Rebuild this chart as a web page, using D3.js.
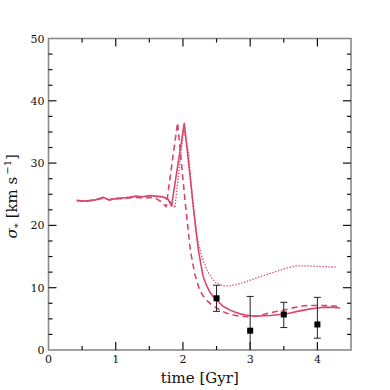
<!DOCTYPE html>
<html>
<head>
<meta charset="utf-8">
<script src="https://cdn.jsdelivr.net/npm/d3@7"></script>
<style>
  body { margin: 0; background: #fff; }
  text { font-family: "DejaVu Serif", serif; fill: #111; }
</style>
</head>
<body>
<script>
// solid model
const solidT = [0.42, 0.55, 0.7, 0.82, 0.9, 1.0, 1.1, 1.2, 1.3, 1.4, 1.5, 1.6, 1.7, 1.78, 1.83, 2.02, 2.15, 2.23, 2.3, 2.35, 2.4, 2.45, 2.5, 2.55, 2.6, 2.65, 2.7, 2.78, 2.85, 2.92, 3.0, 3.08, 3.15, 3.3, 3.4, 3.5, 3.6, 3.7, 3.8, 3.9, 4.0, 4.1, 4.2, 4.34];
const solidV = [24.0, 23.9, 24.1, 24.5, 24.1, 24.3, 24.4, 24.5, 24.7, 24.6, 24.8, 24.7, 24.6, 24.2, 23.1, 36.4, 23.5, 16.0, 11.8, 10.4, 9.3, 8.6, 8.0, 7.5, 7.0, 6.7, 6.4, 6.05, 5.8, 5.65, 5.5, 5.45, 5.45, 5.55, 5.65, 5.75, 5.95, 6.2, 6.4, 6.6, 6.75, 6.85, 6.85, 6.75];

// dashed model
const dashT = [0.42, 0.55, 0.7, 0.82, 0.9, 1.0, 1.1, 1.2, 1.3, 1.4, 1.5, 1.6, 1.68, 1.75, 1.92, 2.03, 2.11, 2.18, 2.25, 2.3, 2.35, 2.43, 2.5, 2.55, 2.65, 2.72, 2.8, 2.9, 3.0, 3.1, 3.2, 3.35, 3.5, 3.65, 3.8, 3.92, 4.04, 4.2, 4.34];
const dashV = [24.0, 23.9, 24.1, 24.4, 24.1, 24.3, 24.3, 24.4, 24.5, 24.4, 24.5, 24.3, 23.8, 23.0, 36.5, 24.1, 16.0, 12.0, 9.6, 8.7, 8.0, 7.2, 6.75, 6.4, 5.9, 5.7, 5.5, 5.4, 5.35, 5.45, 5.7, 6.1, 6.4, 6.8, 7.1, 7.15, 7.15, 7.1, 7.0];

// dotted model
const dotT = [0.42, 0.55, 0.7, 0.82, 0.9, 1.0, 1.1, 1.2, 1.3, 1.4, 1.5, 1.6, 1.7, 1.8, 1.88, 2.01, 2.08, 2.15, 2.2, 2.25, 2.3, 2.36, 2.43, 2.49, 2.55, 2.62, 2.7, 2.8, 2.95, 3.1, 3.3, 3.5, 3.6, 3.69, 3.85, 4.04, 4.29];
const dotV = [24.0, 23.9, 24.1, 24.5, 24.1, 24.3, 24.4, 24.5, 24.6, 24.6, 24.7, 24.6, 24.5, 24.0, 22.8, 35.5, 32.0, 23.0, 18.5, 16.2, 14.4, 12.8, 11.5, 10.8, 10.45, 10.3, 10.3, 10.5, 11.0, 11.6, 12.3, 13.0, 13.3, 13.5, 13.5, 13.4, 13.3];

// observations
const obsT = [2.5, 3.0, 3.5, 4.0];
const obsV = [8.3, 3.1, 5.7, 4.1];
const obsLo = [6.2, 0, 3.6, 1.9];
const obsHi = [10.4, 8.6, 7.65, 8.45];

const xTicks = [0, 1, 2, 3, 4];
const yTicks = [0, 10, 20, 30, 40, 50];

const W = 390, H = 390;
const m = { left: 48.5, right: 351, top: 38.5, bottom: 350 };
const red = "#d9476b";

const svg = d3.select("body").append("svg")
  .attr("width", W)
  .attr("height", H);

const x = d3.scaleLinear().domain([0, 4.5]).range([m.left, m.right]);
const y = d3.scaleLinear().domain([0, 50]).range([m.bottom, m.top]);

// frame
svg.append("rect")
  .attr("x", m.left).attr("y", m.top)
  .attr("width", m.right - m.left).attr("height", m.bottom - m.top)
  .attr("fill", "none").attr("stroke", "#8a8a8a").attr("stroke-width", 1.6);

// ticks, all pointing inward
const xMinor = d3.range(0.5, 4.5, 1);
const yMinor = d3.range(2.5, 50, 2.5).filter(v => v % 10 !== 0);

function ticks(g, vals, len, col) {
  vals.forEach(v => {
    g.append("line").attr("x1", x(v)).attr("x2", x(v))
      .attr("y1", m.bottom).attr("y2", m.bottom - len).attr("stroke", col);
    g.append("line").attr("x1", x(v)).attr("x2", x(v))
      .attr("y1", m.top).attr("y2", m.top + len).attr("stroke", col);
  });
}
function yticks(g, vals, len, col) {
  vals.forEach(v => {
    g.append("line").attr("y1", y(v)).attr("y2", y(v))
      .attr("x1", m.left).attr("x2", m.left + len).attr("stroke", col);
    g.append("line").attr("y1", y(v)).attr("y2", y(v))
      .attr("x1", m.right).attr("x2", m.right - len).attr("stroke", col);
  });
}
const tg = svg.append("g").attr("stroke-width", 1.2);
ticks(tg, xTicks.slice(1), 8, "#111");
ticks(tg, xMinor, 4, "#111");
yticks(tg, yTicks.slice(1, -1), 8, "#111");
yticks(tg, yMinor, 4, "#111");

// tick labels
svg.append("g").selectAll("text").data(xTicks).join("text")
  .attr("x", d => x(d)).attr("y", m.bottom + 13)
  .attr("text-anchor", "middle").attr("font-size", 11)
  .text(d => d);
svg.append("g").selectAll("text").data(yTicks).join("text")
  .attr("x", m.left - 4).attr("y", d => y(d) + 4)
  .attr("text-anchor", "end").attr("font-size", 11)
  .text(d => d);

// axis titles
svg.append("text")
  .attr("x", (m.left + m.right) / 2).attr("y", 383)
  .attr("text-anchor", "middle").attr("font-size", 15)
  .text("time [Gyr]");

const yl = svg.append("text")
  .attr("transform", `translate(17,${(m.top + m.bottom) / 2 + 2}) rotate(-90)`)
  .attr("text-anchor", "middle").attr("font-size", 15);
yl.append("tspan").attr("font-style", "italic").text("σ");
yl.append("tspan").attr("font-size", 10).attr("dy", 4).text("*");
yl.append("tspan").attr("dy", -4).text(" [km s");
yl.append("tspan").attr("font-size", 10).attr("dy", -6).text("\u2009\u22121");
yl.append("tspan").attr("dy", 6).text("]");

// model lines
const line = d3.line().x(d => x(d[0])).y(d => y(d[1]));
const series = [
  { t: dotT, v: dotV, dash: "1.4,1.6", w: 1.3 },
  { t: dashT, v: dashV, dash: "6,4", w: 1.6 },
  { t: solidT, v: solidV, dash: null, w: 1.6 }
];
series.forEach(s => {
  svg.append("path")
    .datum(d3.zip(s.t, s.v))
    .attr("d", line)
    .attr("fill", "none")
    .attr("stroke", red)
    .attr("stroke-width", s.w)
    .attr("stroke-linejoin", "round")
    .attr("stroke-dasharray", s.dash);
});

// observations with error bars
const obs = obsT.map((t, i) => ({ t, v: obsV[i], lo: obsLo[i], hi: obsHi[i] }));
const eg = svg.append("g").attr("stroke", "#222").attr("stroke-width", 1);
obs.forEach(d => {
  eg.append("line").attr("x1", x(d.t)).attr("x2", x(d.t)).attr("y1", y(d.lo)).attr("y2", y(d.hi));
  eg.append("line").attr("x1", x(d.t) - 3.5).attr("x2", x(d.t) + 3.5).attr("y1", y(d.hi)).attr("y2", y(d.hi));
  if (d.lo > 0)
    eg.append("line").attr("x1", x(d.t) - 3.5).attr("x2", x(d.t) + 3.5).attr("y1", y(d.lo)).attr("y2", y(d.lo));
});
svg.append("g").selectAll("rect").data(obs).join("rect")
  .attr("x", d => x(d.t) - 3).attr("y", d => y(d.v) - 3)
  .attr("width", 6).attr("height", 6)
  .attr("fill", "#000");
</script>
</body>
</html>
